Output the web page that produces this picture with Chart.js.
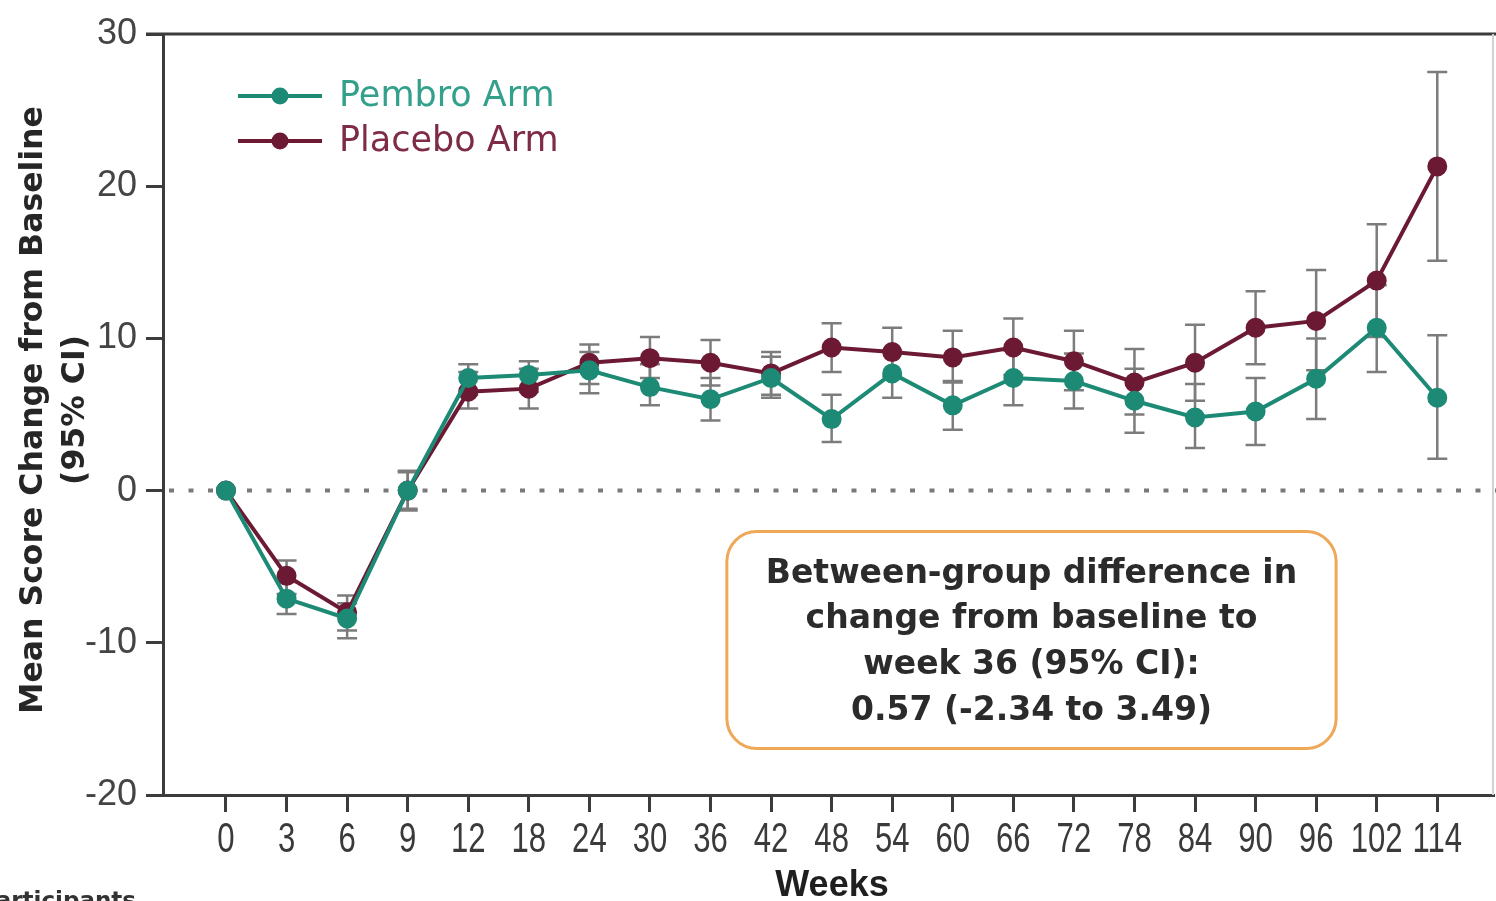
<!DOCTYPE html>
<html>
<head>
<meta charset="utf-8">
<script src="https://cdn.jsdelivr.net/npm/chart.js@4/dist/chart.umd.min.js"></script>
<style>
  html, body { margin: 0; padding: 0; background: #ffffff; overflow: hidden; }
  #wrap { position: relative; width: 1496px; height: 901px; }
</style>
</head>
<body>
<div id="wrap"><canvas id="chart" width="1496" height="901"></canvas></div>
<script>
// Visit schedule (weeks from baseline)
const weeks = [0, 3, 6, 9, 12, 18, 24, 30, 36, 42, 48, 54, 60, 66, 72, 78, 84, 90, 96, 102, 114];

// Mean change from baseline
const pembroMean  = [0, -7.1, -8.4, 0, 7.4, 7.6, 7.9, 6.8, 6.0, 7.4, 4.7, 7.7, 5.6, 7.4, 7.2, 5.9, 4.8, 5.2, 7.35, 10.7, 6.1];
const placeboMean = [0, -5.6, -8.0, 0, 6.5, 6.7, 8.4, 8.7, 8.4, 7.7, 9.4, 9.1, 8.75, 9.4, 8.5, 7.1, 8.4, 10.7, 11.15, 13.8, 21.3];

// 95% confidence limits (null = no interval drawn)
const pembroLow   = [null, -8.1, -9.7, -1.2, 6.3, 6.5, 6.4, 5.6, 4.6, 6.1, 3.2, 6.1, 4.0, 5.6, 5.4, 3.8, 2.8, 3.0, 4.7, 7.8, 2.1];
const pembroHigh  = [null, -6.0, -7.4, 1.2, 8.3, 8.5, 9.1, 8.3, 7.4, 8.8, 6.3, 9.2, 7.2, 9.2, 9.0, 8.0, 7.0, 7.4, 10.0, 13.5, 10.2];
const placeboLow  = [null, -6.8, -9.2, -1.3, 5.4, 5.4, 7.0, 7.4, 6.9, 6.3, 7.8, 7.5, 7.1, 7.6, 6.6, 5.0, 5.9, 8.3, 7.9, 10.1, 15.1];
const placeboHigh = [null, -4.6, -6.9, 1.3, 7.8, 8.0, 9.6, 10.1, 9.9, 9.1, 11.0, 10.7, 10.5, 11.3, 10.5, 9.3, 10.9, 13.1, 14.5, 17.5, 27.5];

// Y axis ticks
const yTicks = [-20, -10, 0, 10, 20, 30];

// Text shown in the summary box
const summaryLines = [
  'Between-group difference in',
  'change from baseline to',
  'week 36 (95% CI):',
  '0.57 (-2.34 to 3.49)'
];

const TEAL = '#1d8a75';
const TEAL_TEXT = '#33a08b';
const MAROON = '#6c1a34';
const MAROON_TEXT = '#7e2c45';
const AXIS = '#3c3c3c';

const toPoints = arr => arr.map((v, i) => ({ x: i, y: v }));

// Confidence-interval whiskers, drawn beneath the lines
const errorBars = {
  id: 'errorBars',
  beforeDatasetsDraw(chart) {
    const { ctx, scales: { x, y } } = chart;
    const sets = [[placeboLow, placeboHigh], [pembroLow, pembroHigh]];
    ctx.save();
    ctx.strokeStyle = '#7c7c7c';
    ctx.lineWidth = 2.5;
    const cap = 10;
    sets.forEach(([lo, hi]) => {
      lo.forEach((l, i) => {
        if (l == null) return;
        const px = x.getPixelForValue(i);
        const y1 = y.getPixelForValue(l);
        const y2 = y.getPixelForValue(hi[i]);
        ctx.beginPath();
        ctx.moveTo(px, y1); ctx.lineTo(px, y2);
        ctx.moveTo(px - cap, y1); ctx.lineTo(px + cap, y1);
        ctx.moveTo(px - cap, y2); ctx.lineTo(px + cap, y2);
        ctx.stroke();
      });
    });
    ctx.restore();
  }
};

// Frame, zero reference line, week labels, axis titles, legend and summary box
const decorations = {
  id: 'decorations',
  beforeDatasetsDraw(chart) {
    const { ctx, chartArea: a, scales: { y } } = chart;
    ctx.save();
    // dotted zero line
    const y0 = y.getPixelForValue(0);
    ctx.strokeStyle = '#7a7a7a';
    ctx.lineWidth = 4;
    ctx.setLineDash([5, 14.5]);
    ctx.beginPath();
    ctx.moveTo(a.left + 6, y0);
    ctx.lineTo(chart.width, y0);
    ctx.stroke();
    ctx.setLineDash([]);
    // frame: top and right edges
    ctx.strokeStyle = AXIS;
    ctx.lineWidth = 3;
    ctx.beginPath();
    ctx.moveTo(a.left - 17, a.top);
    ctx.lineTo(chart.width, a.top);
    ctx.stroke();
    ctx.strokeStyle = '#d2d2d2';
    ctx.lineWidth = 2;
    ctx.beginPath();
    ctx.moveTo(a.right, a.top);
    ctx.lineTo(a.right, a.bottom);
    ctx.stroke();
    ctx.restore();
  },
  afterDraw(chart) {
    const { ctx, chartArea: a, scales: { x, y } } = chart;
    ctx.save();

    // Week labels under the x axis, in a narrow face
    ctx.fillStyle = '#3a3a3a';
    ctx.font = '42px "Liberation Sans", Arial, sans-serif';
    ctx.textAlign = 'center';
    ctx.textBaseline = 'middle';
    x.ticks.forEach(t => {
      const px = x.getPixelForValue(t.value);
      ctx.setTransform(0.74, 0, 0, 1, px, 840);
      ctx.fillText(String(weeks[t.value]), 0, 0);
    });
    ctx.setTransform(1, 0, 0, 1, 0, 0);

    // Y axis title (two lines, rotated)
    ctx.fillStyle = '#262626';
    ctx.translate(0, 410);
    ctx.rotate(-Math.PI / 2);
    ctx.font = 'bold 31.5px "DejaVu Sans", sans-serif';
    ctx.fillText('Mean Score Change from Baseline', 0, 34);
    ctx.fillText('(95% CI)', 0, 76);
    ctx.setTransform(1, 0, 0, 1, 0, 0);

    // X axis title
    ctx.font = 'bold 36px "Liberation Sans", Arial, sans-serif';
    ctx.fillStyle = '#1f1f1f';
    ctx.fillText('Weeks', 832, 886);

    // Cut-off footnote at the lower left
    ctx.font = 'bold 23px "DejaVu Sans", sans-serif';
    ctx.textAlign = 'right';
    ctx.textBaseline = 'alphabetic';
    ctx.fillStyle = '#333333';
    ctx.fillText('Participants', 136, 908);

    // Legend
    const items = chart.data.datasets.slice().reverse();
    const textColors = { 'Pembro Arm': TEAL_TEXT, 'Placebo Arm': MAROON_TEXT };
    items.forEach((ds, k) => {
      const ly = 96 + k * 45;
      ctx.strokeStyle = ds.borderColor;
      ctx.lineWidth = 4;
      ctx.beginPath();
      ctx.moveTo(238, ly); ctx.lineTo(322, ly);
      ctx.stroke();
      ctx.fillStyle = ds.borderColor;
      ctx.beginPath();
      ctx.arc(280, ly, 8.5, 0, Math.PI * 2);
      ctx.fill();
      ctx.font = '35px "DejaVu Sans", sans-serif';
      ctx.textAlign = 'left';
      ctx.textBaseline = 'middle';
      ctx.fillStyle = textColors[ds.label];
      ctx.fillText(ds.label, 339, ly + 1);
    });

    // Summary box anchored in data coordinates
    const bx1 = x.getPixelForValue(8.27), bx2 = x.getPixelForValue(18.33);
    const by1 = y.getPixelForValue(-2.69), by2 = y.getPixelForValue(-16.95);
    ctx.fillStyle = '#ffffff';
    ctx.strokeStyle = '#eea857';
    ctx.lineWidth = 3;
    ctx.beginPath();
    ctx.roundRect(bx1, by1, bx2 - bx1, by2 - by1, 30);
    ctx.fill();
    ctx.stroke();
    ctx.fillStyle = '#2b2b2b';
    ctx.font = 'bold 33px "DejaVu Sans", sans-serif';
    ctx.textAlign = 'center';
    ctx.textBaseline = 'middle';
    const cx = (bx1 + bx2) / 2;
    summaryLines.forEach((t, i) => ctx.fillText(t, cx, 574 + i * 45.7));

    ctx.restore();
  }
};

new Chart(document.getElementById('chart'), {
  type: 'line',
  data: {
    datasets: [
      {
        label: 'Placebo Arm',
        data: toPoints(placeboMean),
        borderColor: MAROON,
        backgroundColor: MAROON,
        pointBackgroundColor: MAROON,
        pointBorderColor: MAROON,
        pointRadius: 8,
        borderWidth: 4,
        tension: 0,
        order: 2
      },
      {
        label: 'Pembro Arm',
        data: toPoints(pembroMean),
        borderColor: TEAL,
        backgroundColor: TEAL,
        pointBackgroundColor: TEAL,
        pointBorderColor: TEAL,
        pointRadius: 8,
        borderWidth: 4,
        tension: 0,
        order: 1
      }
    ]
  },
  options: {
    responsive: false,
    animation: false,
    devicePixelRatio: 1,
    layout: { autoPadding: false, padding: { top: 34, right: 3, left: 0, bottom: 0 } },
    plugins: { legend: { display: false }, tooltip: { enabled: false } },
    scales: {
      x: {
        type: 'linear',
        min: -1.04,
        max: 20.92,
        afterBuildTicks: s => { s.ticks = weeks.map((_, i) => ({ value: i })); },
        afterFit: s => { s.height = 106; },
        ticks: { display: false },
        grid: { drawOnChartArea: false, drawTicks: true, tickLength: 17, color: AXIS, lineWidth: 3 },
        border: { display: true, color: AXIS, width: 3 }
      },
      y: {
        min: -20,
        max: 30,
        afterBuildTicks: s => { s.ticks = yTicks.map(v => ({ value: v })); },
        afterFit: s => { s.width = 163; },
        ticks: {
          padding: 9,
          color: '#444444',
          font: { family: '"Liberation Sans", Arial, sans-serif', size: 36 }
        },
        grid: { drawOnChartArea: false, drawTicks: true, tickLength: 17, color: AXIS, lineWidth: 3 },
        border: { display: true, color: AXIS, width: 3 }
      }
    }
  },
  plugins: [errorBars, decorations]
});
</script>
</body>
</html>
